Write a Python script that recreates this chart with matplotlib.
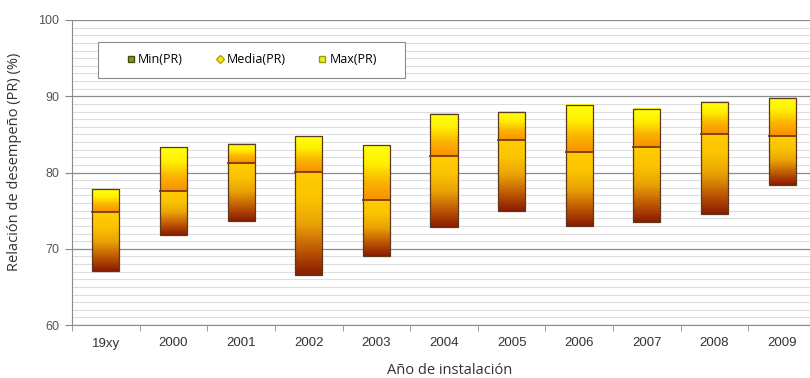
import numpy as np
import matplotlib.pyplot as plt
from matplotlib.colors import LinearSegmentedColormap
from matplotlib.lines import Line2D
from matplotlib.ticker import MultipleLocator

years = ["19xy", "2000", "2001", "2002", "2003", "2004", "2005", "2006", "2007", "2008", "2009"]
pr_min = [67.1, 71.8, 73.6, 66.6, 69.0, 72.9, 74.95, 73.0, 73.55, 74.5, 78.4]
pr_media = [74.8, 77.6, 81.3, 80.1, 76.4, 82.1, 84.3, 82.7, 83.3, 85.1, 84.8]
pr_max = [77.8, 83.3, 83.8, 84.8, 83.6, 87.7, 88.0, 88.9, 88.3, 89.3, 89.8]

# gradients run bottom -> top
low_cmap = LinearSegmentedColormap.from_list("low", ["#8a1a02", "#c05a04", "#e9a206", "#fbc400", "#ffcc00"])
high_cmap = LinearSegmentedColormap.from_list("high", ["#f89000", "#fbb400", "#fff000", "#ffff10"])

plt.rcParams['font.family'] = ['Liberation Sans', 'DejaVu Sans']
label_font = ["Open Sans", "DejaVu Sans"]

fig = plt.figure(figsize=(8.1, 3.78), dpi=100)
ax = fig.add_axes([72 / 810, 1 - 325 / 378, 744 / 810, 305 / 378])

x = np.arange(len(years))
w = 0.4
grad = np.linspace(0, 1, 256).reshape(-1, 1)


def gradient_bar(xc, y0, y1, cmap):
    ax.imshow(grad, cmap=cmap, origin="lower", aspect="auto",
              extent=[xc - w / 2, xc + w / 2, y0, y1], zorder=3)


for i in x:
    gradient_bar(i, pr_min[i], pr_media[i], low_cmap)
    gradient_bar(i, pr_media[i], pr_max[i], high_cmap)
    ax.add_patch(plt.Rectangle((i - w / 2, pr_min[i]), w, pr_max[i] - pr_min[i],
                               fill=False, ec="#5a3a1a", lw=0.9, zorder=4))
    ax.plot([i - w / 2, i + w / 2], [pr_media[i]] * 2, color="#7a3a10", lw=1.3, zorder=4)

ax.set_xlim(-0.5, len(years) - 0.5)
ax.set_ylim(60, 100)
ax.yaxis.set_major_locator(MultipleLocator(10))
ax.yaxis.set_minor_locator(MultipleLocator(1))
ax.grid(which="major", axis="y", color="#8c8c8c", lw=0.9, zorder=1)
ax.grid(which="minor", axis="y", color="#dedede", lw=0.8, zorder=1)

ax.set_xticks(x)
ax.set_xticklabels(years)
ax.set_xticks(np.arange(-0.5, len(years)), minor=True)
ax.tick_params(axis="x", which="major", length=0, pad=9, labelsize=9.5, colors="#333333")
ax.tick_params(axis="x", which="minor", length=4, color="#888888")
ax.tick_params(axis="y", which="major", length=5, color="#888888", labelsize=9,
               labelcolor="#555555", pad=4)
ax.tick_params(axis="y", which="minor", length=0)

for s in ["top", "right"]:
    ax.spines[s].set_visible(False)
ax.spines["left"].set_color("#8c8c8c")
ax.spines["bottom"].set_color("#8c8c8c")

ax.set_ylabel("Relación de desempeño (PR) (%)", family=label_font,
              fontsize=10.5, color="#333333")
ax.yaxis.set_label_coords(-0.067, 0.534)
fig.text(450 / 810, 1 - 370 / 378, "Año de instalación", family=label_font,
         fontsize=10.5, color="#333333", ha="center", va="center")

# legend box drawn separately so the entries can sit centred inside it
box = plt.Rectangle((0.035, 0.81), 0.413, 0.118, transform=ax.transAxes,
                    fc="white", ec="#8c8c8c", lw=0.8, zorder=5)
ax.add_patch(box)

handles = [
    Line2D([], [], ls="none", marker="s", ms=5, mfc="#7c9a20", mec="#4a4a10", label="Min(PR)"),
    Line2D([], [], ls="none", marker="D", ms=4, mfc="#f0f000", mec="#c89a00", label="Media(PR)"),
    Line2D([], [], ls="none", marker="s", ms=5, mfc="#f0f000", mec="#9a9a20", label="Max(PR)"),
]
leg = ax.legend(handles=handles, ncol=3, loc="center", bbox_to_anchor=(0.2415, 0.869),
                frameon=False, handletextpad=0.2, handlelength=0.7, columnspacing=2.6,
                prop={"family": label_font, "size": 9})
leg.set_zorder(6)

fig.savefig("out.png", dpi=100)
